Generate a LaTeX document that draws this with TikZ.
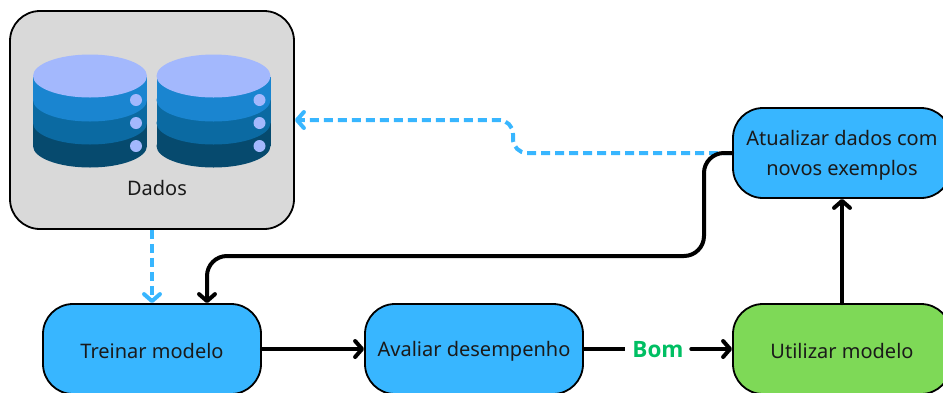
\documentclass[tikz,border=0pt]{standalone}
\usepackage{fontspec}
\setmainfont{Noto Sans}
\newfontfamily\fontebom{Open Sans}
\usetikzlibrary{arrows.meta}
\definecolor{azulcaixa}{HTML}{38B6FF}
\definecolor{verdecaixa}{HTML}{7ED957}
\definecolor{cinzacaixa}{HTML}{D9D9D9}
\definecolor{verdebom}{HTML}{00BF63}
\definecolor{discotopo}{HTML}{A3B8FD}
\definecolor{discoum}{HTML}{1A85D0}
\definecolor{discodois}{HTML}{0B6AA2}
\definecolor{discotres}{HTML}{064A6E}
\definecolor{textocaixa}{HTML}{1A1A1A}
\newcommand{\desce}{\rule{0pt}{19pt}}
\tikzset{
  caixa/.style={draw=black, line width=1.8pt, rounded corners=30pt, minimum width=218pt, minimum height=90pt, fill=azulcaixa, text=textocaixa, align=center, font=\fontsize{20}{30}\selectfont},
  seta/.style={line width=4pt, line cap=round, black, -{Straight Barb[round,length=7pt,width=16pt]}},
  linha/.style={line width=4pt, black},
  tracejada/.style={line width=4pt, azulcaixa, dash pattern=on 9pt off 5pt, -{Straight Barb[round,length=7pt,width=16pt]}}
}
\begin{document}
\begin{tikzpicture}[x=1pt, y=-1pt]
\useasboundingbox (0,0) rectangle (943,392);
\clip (0,0) rectangle (943,392);

\node[caixa, fill=cinzacaixa, minimum width=284pt, minimum height=218pt] (dados) at (152,120) {};
\node[font=\fontsize{20}{24}\selectfont, text=textocaixa] (rotulo) at (157,188) {Dados};

% discos
\foreach \cx in {90,213.5} {
  \foreach \cy/\cor in {146/discotres, 123/discodois, 100/discoum} {
    \fill[\cor] (\cx-57,\cy-23) rectangle (\cx+57,\cy);
    \fill[\cor] (\cx,\cy) ellipse (57pt and 21.5pt);
    \fill[discotopo] (\cx+46,\cy) circle (6pt);
  }
  \fill[discotopo] (\cx,76) ellipse (57pt and 21.5pt);
}

\node[caixa] (treinar) at (152,349) {\desce Treinar modelo};
\node[caixa] (avaliar) at (474,349) {\desce Avaliar desempenho};
\node[caixa, fill=verdecaixa] (utilizar) at (842,349) {\desce Utilizar modelo};
\node[caixa] (atualizar) at (842,153) {\desce Atualizar dados com\\novos exemplos};
\node[text=verdebom, font=\fontsize{22.5}{27}\fontebom\bfseries, inner xsep=7.5pt] (bom) at (658,349.5) {Bom};

\draw[tracejada] (dados.south) -- (treinar.north);
\draw[tracejada, rounded corners=14pt] (atualizar.west) -- (513,153) -- (513,120) -- (dados.east);
\draw[seta, rounded corners=20pt] (atualizar.west) -- (704,153) -- (704,256) -- (207,256) -- ([xshift=55pt]treinar.north);
\draw[seta] (treinar.east) -- (avaliar.west);
\draw[linha] (avaliar.east) -- (bom.west |- avaliar.east);
\draw[seta] (bom.east |- utilizar.west) -- (utilizar.west);
\draw[seta] (utilizar.north) -- (atualizar.south);
\end{tikzpicture}
\end{document}
